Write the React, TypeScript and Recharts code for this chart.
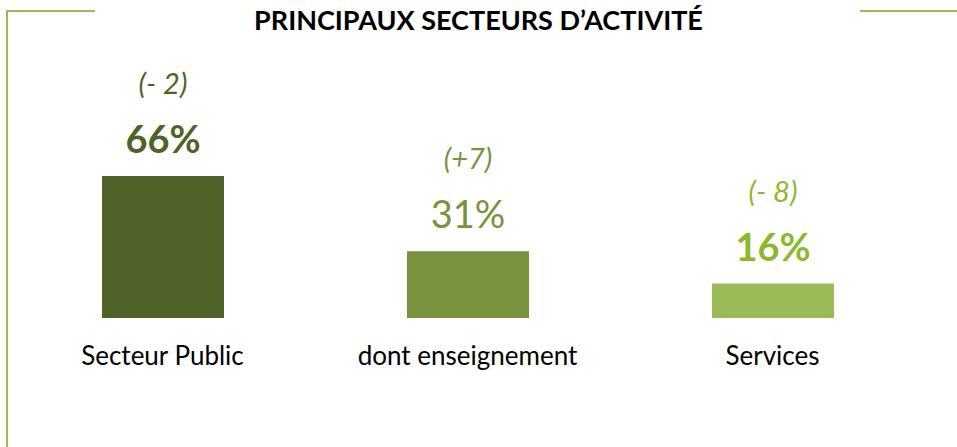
import React from 'react'
import { BarChart, Bar, XAxis, YAxis, Cell, LabelList } from 'recharts'

// data
const categories = ['Secteur Public', 'dont enseignement', 'Services']
const shares = [66, 31, 16]
const changes = ['(- 2)', '(+7)', '(- 8)']

const barColors = ['#4F6228', '#77933C', '#9BBB59']
const valueColors = ['#4F6228', '#77933C', '#8DB82B']
const changeColors = ['#4F6228', '#77933C', '#8DB82B']
const valueWeights = [700, 400, 700]

const FONT = 'Lato, "Open Sans", sans-serif'
const FRAME = '#9BBB59'

const chartData = categories.map((name, i) => ({ name, share: shares[i], change: changes[i] }))

function TopLabels(props: any) {
  const { x, y, width, index } = props
  const cx = x + width / 2
  return (
    <g>
      <text x={cx} y={y - 82} textAnchor="middle" fontFamily={FONT} fontStyle="italic" fontSize={29} fill={changeColors[index]}>
        {changes[index]}
      </text>
      <text x={cx} y={y - 23} textAnchor="middle" fontFamily={FONT} fontWeight={valueWeights[index]} fontSize={38} fill={valueColors[index]}>
        {shares[index]}%
      </text>
    </g>
  )
}

function CategoryTick({ x, y, payload }: any) {
  return (
    <text x={x} y={y + 45} textAnchor="middle" fontFamily={FONT} fontSize={26} fill="#000">
      {payload.value}
    </text>
  )
}

export default function App() {
  return (
    <div style={{ position: 'absolute', left: 0, top: 0, width: 957, height: 447, background: '#fff', overflow: 'hidden' }}>
      {/* frame lines */}
      <div style={{ position: 'absolute', left: 6, top: 10, width: 89, height: 2, background: FRAME }} />
      <div style={{ position: 'absolute', left: 6, top: 10, width: 2, height: 437, background: FRAME }} />
      <div style={{ position: 'absolute', left: 860, top: 10, width: 97, height: 2, background: FRAME }} />
      <div style={{ position: 'absolute', left: 0, top: 1, width: 957, textAlign: 'center', fontFamily: FONT, fontWeight: 700, fontSize: 27, lineHeight: '38px', color: '#000' }}>
        PRINCIPAUX SECTEURS D’ACTIVITÉ
      </div>
      <div style={{ position: 'absolute', left: 0, top: 0 }}>
        <BarChart width={957} height={447} data={chartData} margin={{ top: 103, right: 32, bottom: 0, left: 10 }} barSize={122}>
          <XAxis dataKey="name" axisLine={false} tickLine={false} tickSize={0} height={129} tick={<CategoryTick />} interval={0} />
          <YAxis hide domain={[0, 100]} />
          <Bar dataKey="share" isAnimationActive={false}>
            {chartData.map((d, i) => (
              <Cell key={d.name} fill={barColors[i]} />
            ))}
            <LabelList dataKey="share" content={<TopLabels />} />
          </Bar>
        </BarChart>
      </div>
    </div>
  )
}
